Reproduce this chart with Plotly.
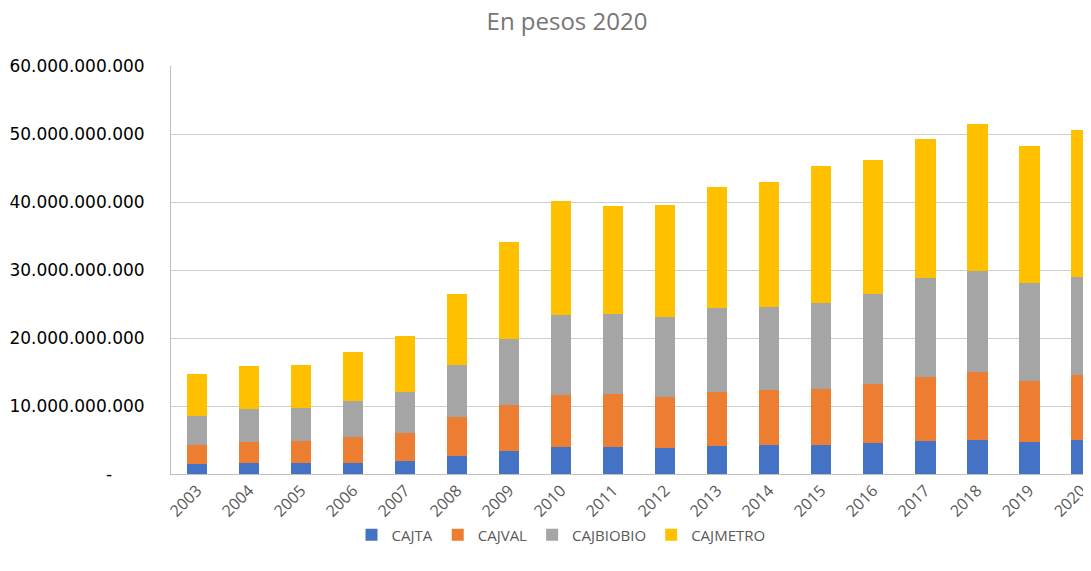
import plotly.graph_objects as go

years = [str(y) for y in range(2003, 2021)]

cajta = [1.47e9, 1.67e9, 1.57e9, 1.67e9, 1.91e9, 2.64e9, 3.38e9, 3.97e9, 3.97e9,
         3.82e9, 4.06e9, 4.21e9, 4.21e9, 4.51e9, 4.80e9, 5.04e9, 4.65e9, 4.95e9]
cajval = [2.74e9, 3.08e9, 3.33e9, 3.72e9, 4.16e9, 5.69e9, 6.81e9, 7.64e9, 7.73e9,
          7.54e9, 8.04e9, 8.08e9, 8.23e9, 8.76e9, 9.50e9, 9.99e9, 9.06e9, 9.59e9]
cajbiobio = [4.36e9, 4.75e9, 4.80e9, 5.29e9, 6.03e9, 7.68e9, 9.69e9, 11.80e9, 11.81e9,
             11.66e9, 12.34e9, 12.29e9, 12.68e9, 13.27e9, 14.54e9, 14.89e9, 14.40e9, 14.45e9]
cajmetro = [6.17e9, 6.32e9, 6.26e9, 7.24e9, 8.22e9, 10.43e9, 14.30e9, 16.75e9, 15.96e9,
            16.55e9, 17.77e9, 18.42e9, 20.13e9, 19.69e9, 20.43e9, 21.60e9, 20.13e9, 21.60e9]

series_names = ["CAJTA", "CAJVAL", "CAJBIOBIO", "CAJMETRO"]
series_colors = ["#4472C4", "#ED7D31", "#A5A5A5", "#FFC000"]

y_tickvals = [0, 10e9, 20e9, 30e9, 40e9, 50e9, 60e9]
y_ticktext = ["-\u00a0\u00a0\u00a0\u00a0\u00a0\u00a0", "10.000.000.000", "20.000.000.000",
              "30.000.000.000", "40.000.000.000", "50.000.000.000", "60.000.000.000"]

fig = go.Figure()
for name, vals, col in zip(series_names, [cajta, cajval, cajbiobio, cajmetro], series_colors):
    fig.add_trace(go.Bar(x=years, y=vals, name=name, marker=dict(color=col, line=dict(width=0))))

# page body has an 8px default margin; compensate so the figure fills the window
OFF = 8
W, H = 1091 - OFF, 571 - OFF
L, T, B = 171 - OFF, 66 - OFF, 571 - 474
fig.update_layout(
    width=W, height=H,
    barmode="stack", bargap=0.6,
    plot_bgcolor="white", paper_bgcolor="white",
    margin=dict(l=L, r=0, t=T, b=B, autoexpand=False),
    title=dict(text="En pesos 2020", x=(567 - OFF) / W, xref="container", xanchor="center",
               y=1 - 5 / H, yref="container", yanchor="top", pad=dict(t=0, b=0),
               font=dict(family="Open Sans", size=24, color="#767676")),
    legend=dict(orientation="h", x=(561 - 171) / (1091 - 171), xanchor="center",
                y=-(535 - 474) / (474 - 66), yanchor="middle",
                font=dict(family="Open Sans", size=15, color="#595959"),
                traceorder="normal", itemwidth=30),
    xaxis=dict(type="category", range=[-0.5, 17.19], tickangle=-45, automargin=False,
               tickfont=dict(family="Open Sans", size=16, color="#595959"),
               showline=True, linecolor="#BFBFBF", linewidth=1, ticks="", showgrid=False),
    yaxis=dict(range=[0, 60e9], tickvals=y_tickvals, ticktext=y_ticktext, automargin=False,
               tickfont=dict(family="DejaVu Sans", size=17, color="#000000"),
               showgrid=True, gridcolor="#CFCFCF", gridwidth=1,
               showline=True, linecolor="#BFBFBF", linewidth=1, ticks="",
               ticklabelstandoff=22, zeroline=False),
)

fig.write_html("out.html")
